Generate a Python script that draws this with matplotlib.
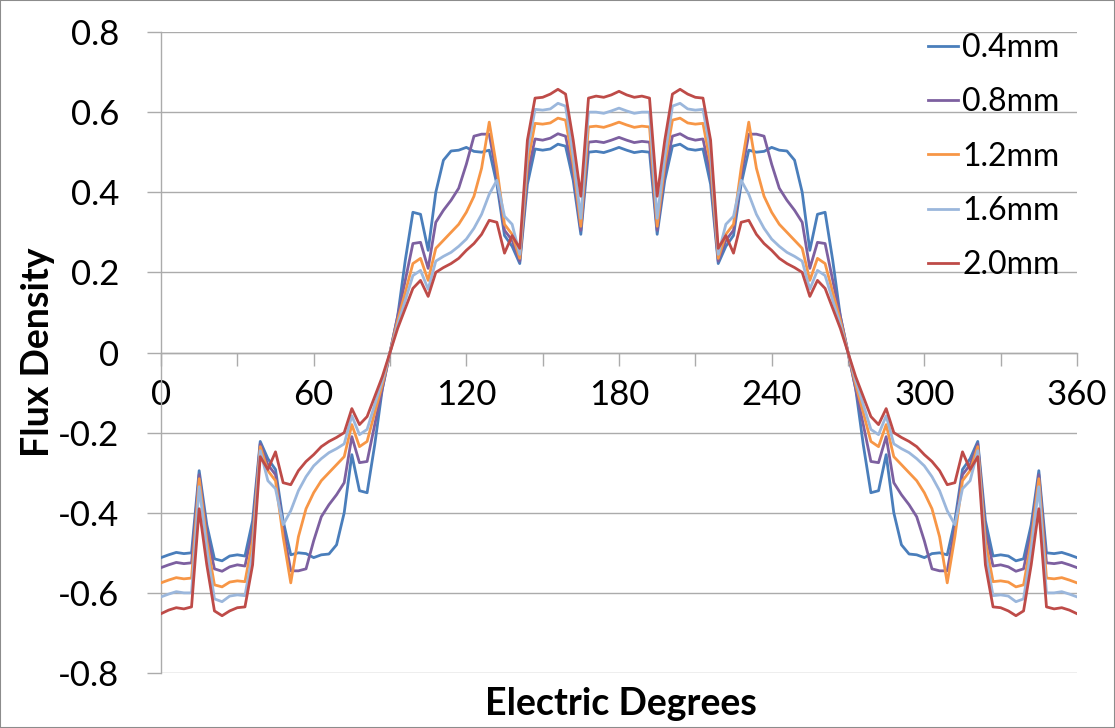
import matplotlib
matplotlib.use("Agg")
import matplotlib.pyplot as plt
from matplotlib.patches import Rectangle

# Electrical angle samples (degrees)
degrees = list(range(0, 361, 3))

flux_04mm = [
    -0.512, -0.505, -0.499, -0.502, -0.500, -0.295, -0.430, -0.515, -0.520, -0.508, -0.505, -0.508, -0.420, -0.222, -0.265, -0.292,
    -0.420, -0.505, -0.500, -0.502, -0.512, -0.505, -0.503, -0.480, -0.400, -0.255, -0.345, -0.350, -0.230, -0.090, 0.000,
    0.090, 0.230, 0.350, 0.345, 0.255, 0.400, 0.480, 0.503, 0.505, 0.512, 0.502, 0.500, 0.505, 0.420, 0.292,
    0.265, 0.222, 0.420, 0.508, 0.505, 0.508, 0.520, 0.515, 0.430, 0.295, 0.500, 0.502, 0.499, 0.505, 0.512,
    0.505, 0.499, 0.502, 0.500, 0.295, 0.430, 0.515, 0.520, 0.508, 0.505, 0.508, 0.420, 0.222, 0.265, 0.292,
    0.420, 0.505, 0.500, 0.502, 0.512, 0.505, 0.503, 0.480, 0.400, 0.255, 0.345, 0.350, 0.230, 0.090, 0.000,
    -0.090, -0.230, -0.350, -0.345, -0.255, -0.400, -0.480, -0.503, -0.505, -0.512, -0.502, -0.500, -0.505, -0.420, -0.292,
    -0.265, -0.222, -0.420, -0.508, -0.505, -0.508, -0.520, -0.515, -0.430, -0.295, -0.500, -0.502, -0.499, -0.505, -0.512,
]

flux_08mm = [
    -0.537, -0.530, -0.524, -0.527, -0.525, -0.305, -0.450, -0.540, -0.546, -0.535, -0.530, -0.533, -0.445, -0.228, -0.280, -0.305,
    -0.440, -0.545, -0.545, -0.540, -0.470, -0.410, -0.380, -0.355, -0.325, -0.210, -0.275, -0.272, -0.180, -0.090, 0.000,
    0.090, 0.180, 0.272, 0.275, 0.210, 0.325, 0.355, 0.380, 0.410, 0.470, 0.540, 0.545, 0.545, 0.440, 0.305,
    0.280, 0.228, 0.445, 0.533, 0.530, 0.535, 0.546, 0.540, 0.450, 0.305, 0.525, 0.527, 0.524, 0.530, 0.537,
    0.530, 0.524, 0.527, 0.525, 0.305, 0.450, 0.540, 0.546, 0.535, 0.530, 0.533, 0.445, 0.228, 0.280, 0.305,
    0.440, 0.545, 0.545, 0.540, 0.470, 0.410, 0.380, 0.355, 0.325, 0.210, 0.275, 0.272, 0.180, 0.090, 0.000,
    -0.090, -0.180, -0.272, -0.275, -0.210, -0.325, -0.355, -0.380, -0.410, -0.470, -0.540, -0.545, -0.545, -0.440, -0.305,
    -0.280, -0.228, -0.445, -0.533, -0.530, -0.535, -0.546, -0.540, -0.450, -0.305, -0.525, -0.527, -0.524, -0.530, -0.537,
]

flux_12mm = [
    -0.575, -0.568, -0.562, -0.565, -0.563, -0.315, -0.470, -0.580, -0.585, -0.573, -0.570, -0.572, -0.470, -0.235, -0.295, -0.320,
    -0.460, -0.575, -0.460, -0.390, -0.350, -0.320, -0.300, -0.280, -0.260, -0.180, -0.235, -0.222, -0.150, -0.080, 0.000,
    0.080, 0.150, 0.222, 0.235, 0.180, 0.260, 0.280, 0.300, 0.320, 0.350, 0.390, 0.460, 0.575, 0.460, 0.320,
    0.295, 0.235, 0.470, 0.572, 0.570, 0.573, 0.585, 0.580, 0.470, 0.315, 0.563, 0.565, 0.562, 0.568, 0.575,
    0.568, 0.562, 0.565, 0.563, 0.315, 0.470, 0.580, 0.585, 0.573, 0.570, 0.572, 0.470, 0.235, 0.295, 0.320,
    0.460, 0.575, 0.460, 0.390, 0.350, 0.320, 0.300, 0.280, 0.260, 0.180, 0.235, 0.222, 0.150, 0.080, 0.000,
    -0.080, -0.150, -0.222, -0.235, -0.180, -0.260, -0.280, -0.300, -0.320, -0.350, -0.390, -0.460, -0.575, -0.460, -0.320,
    -0.295, -0.235, -0.470, -0.572, -0.570, -0.573, -0.585, -0.580, -0.470, -0.315, -0.563, -0.565, -0.562, -0.568, -0.575,
]

flux_16mm = [
    -0.610, -0.603, -0.597, -0.600, -0.600, -0.335, -0.490, -0.615, -0.622, -0.608, -0.605, -0.607, -0.500, -0.245, -0.320, -0.340,
    -0.430, -0.395, -0.345, -0.310, -0.283, -0.265, -0.250, -0.240, -0.228, -0.158, -0.205, -0.192, -0.130, -0.070, 0.000,
    0.070, 0.130, 0.192, 0.205, 0.158, 0.228, 0.240, 0.250, 0.265, 0.283, 0.310, 0.345, 0.395, 0.430, 0.340,
    0.320, 0.245, 0.500, 0.607, 0.605, 0.608, 0.622, 0.615, 0.490, 0.335, 0.600, 0.600, 0.597, 0.603, 0.610,
    0.603, 0.597, 0.600, 0.600, 0.335, 0.490, 0.615, 0.622, 0.608, 0.605, 0.607, 0.500, 0.245, 0.320, 0.340,
    0.430, 0.395, 0.345, 0.310, 0.283, 0.265, 0.250, 0.240, 0.228, 0.158, 0.205, 0.192, 0.130, 0.070, 0.000,
    -0.070, -0.130, -0.192, -0.205, -0.158, -0.228, -0.240, -0.250, -0.265, -0.283, -0.310, -0.345, -0.395, -0.430, -0.340,
    -0.320, -0.245, -0.500, -0.607, -0.605, -0.608, -0.622, -0.615, -0.490, -0.335, -0.600, -0.600, -0.597, -0.603, -0.610,
]

flux_20mm = [
    -0.652, -0.643, -0.637, -0.640, -0.635, -0.390, -0.530, -0.645, -0.657, -0.645, -0.637, -0.635, -0.530, -0.260, -0.292, -0.248,
    -0.325, -0.330, -0.295, -0.272, -0.255, -0.235, -0.222, -0.212, -0.200, -0.140, -0.180, -0.160, -0.110, -0.060, 0.000,
    0.060, 0.110, 0.160, 0.180, 0.140, 0.200, 0.212, 0.222, 0.235, 0.255, 0.272, 0.295, 0.330, 0.325, 0.248,
    0.292, 0.260, 0.530, 0.635, 0.637, 0.645, 0.657, 0.645, 0.530, 0.390, 0.635, 0.640, 0.637, 0.643, 0.652,
    0.643, 0.637, 0.640, 0.635, 0.390, 0.530, 0.645, 0.657, 0.645, 0.637, 0.635, 0.530, 0.260, 0.292, 0.248,
    0.325, 0.330, 0.295, 0.272, 0.255, 0.235, 0.222, 0.212, 0.200, 0.140, 0.180, 0.160, 0.110, 0.060, 0.000,
    -0.060, -0.110, -0.160, -0.180, -0.140, -0.200, -0.212, -0.222, -0.235, -0.255, -0.272, -0.295, -0.330, -0.325, -0.248,
    -0.292, -0.260, -0.530, -0.635, -0.637, -0.645, -0.657, -0.645, -0.530, -0.390, -0.635, -0.640, -0.637, -0.643, -0.652,
]

series = [flux_04mm, flux_08mm, flux_12mm, flux_16mm, flux_20mm]
series_labels = ["0.4mm", "0.8mm", "1.2mm", "1.6mm", "2.0mm"]
series_colors = ["#4A7EBB", "#7D60A0", "#F79646", "#9BB7DC", "#BE4B48"]

y_ticks = [-0.8, -0.6, -0.4, -0.2, 0.0, 0.2, 0.4, 0.6, 0.8]
y_tick_labels = ["-0.8", "-0.6", "-0.4", "-0.2", "0", "0.2", "0.4", "0.6", "0.8"]
x_ticks = list(range(0, 361, 30))
x_tick_labels = ["0", "", "60", "", "120", "", "180", "", "240", "", "300", "", "360"]

plt.rcParams["font.family"] = ["Lato", "DejaVu Sans"]

W, H = 1115, 728
fig = plt.figure(figsize=(W / 100, H / 100), dpi=100)
ax = fig.add_axes([161 / W, 1 - 673 / H, (1077 - 161) / W, (673 - 32) / H])

grid_color = "#ABABAB"
for s, lab, col in zip(series, series_labels, series_colors):
    ax.plot(degrees, s, color=col, lw=2.0, label=lab, zorder=3,
            solid_joinstyle="round")

ax.set_xlim(0, 360)
ax.set_ylim(-0.8, 0.8)
ax.set_yticks(y_ticks)
ax.set_yticklabels(y_tick_labels)
ax.set_xticks(x_ticks)
ax.set_xticklabels(x_tick_labels)

ax.yaxis.grid(True, color=grid_color, lw=1.0, zorder=0)
ax.set_axisbelow(True)

for side in ("top", "right"):
    ax.spines[side].set_visible(False)
ax.spines["left"].set_color(grid_color)
ax.spines["left"].set_linewidth(1.0)
ax.spines["bottom"].set_position(("data", 0))
ax.spines["bottom"].set_color(grid_color)
ax.spines["bottom"].set_linewidth(1.0)

ax.tick_params(axis="y", direction="out", length=10, width=1.0, color=grid_color,
               labelsize=25, pad=20)
ax.tick_params(axis="x", direction="out", length=9, width=1.0, color=grid_color,
               labelsize=25, pad=10)

fig.text(38 / W, 1 - 352 / H, "Flux Density", rotation=90, ha="center", va="center",
         fontsize=27, fontweight="bold")
fig.text(621 / W, 1 - 704 / H, "Electric Degrees", ha="center", va="center",
         fontsize=27, fontweight="bold")

leg = ax.legend(loc="upper left", bbox_to_anchor=(928 / W, 1 - 33 / H),
                bbox_transform=fig.transFigure, frameon=False, fontsize=23,
                handlelength=0.95, handletextpad=0.12, labelspacing=0.76,
                borderpad=0, borderaxespad=0)
for line in leg.get_lines():
    line.set_linewidth(2.0)

fig.patches.append(Rectangle((0, 0), 1, 1, transform=fig.transFigure, fill=False,
                             edgecolor="#8C8C8C", lw=1.5))

fig.savefig("out.png", dpi=100)
